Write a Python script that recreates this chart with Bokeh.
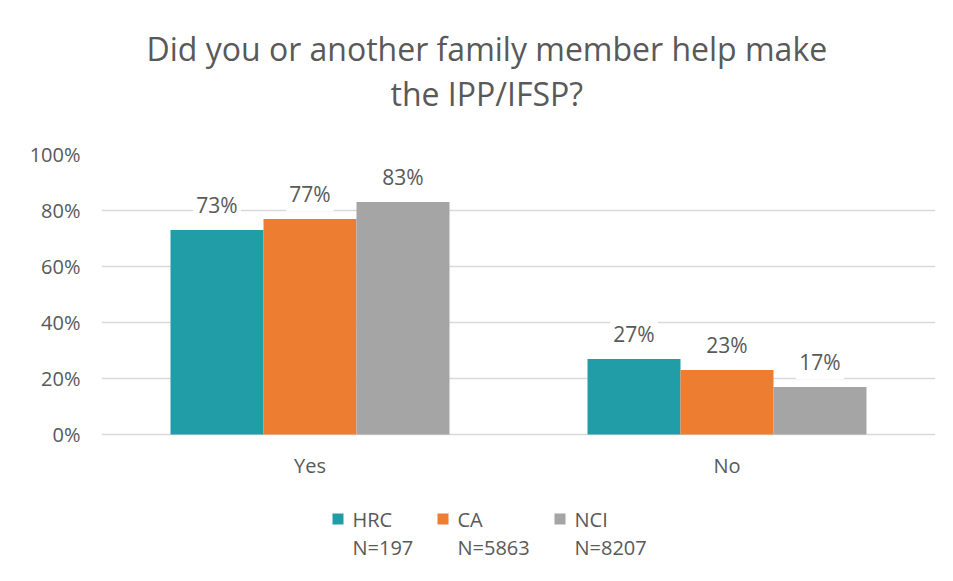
from bokeh.plotting import figure
from bokeh.models import (FactorRange, ColumnDataSource, Title, NumeralTickFormatter, FixedTicker)
from bokeh.transform import dodge
from bokeh.core.properties import value
from bokeh.embed import file_html
from bokeh.resources import INLINE

categories = ["Yes", "No"]
series = ["HRC", "CA", "NCI"]
series_n = ["N=197", "N=5863", "N=8207"]
hrc = [0.73, 0.27]
ca = [0.77, 0.23]
nci = [0.83, 0.17]
colors = ["#219DA7", "#ED7D31", "#A5A5A5"]
title_lines = ["Did you or another family member help make", "the IPP/IFSP?"]
y_ticks = [0, 0.2, 0.4, 0.6, 0.8, 1.0]

FONT = "Open Sans"
TXT = "#595959"

# layout (pixels in the canvas) -> the frame spans the category axis area and reaches
# down to the canvas bottom so that the category labels and legend are drawn in it
FRAME_L, FRAME_R, FRAME_T, ZERO_Y, CANVAS_B = 101, 935, 154, 434, 573
PX_PER_Y = (ZERO_Y - FRAME_T) / 1.0
PX_PER_X = (FRAME_R - FRAME_L) / len(categories)


def ydata(py):
    return (ZERO_Y - py) / PX_PER_Y


def xdata(px):
    return (px - FRAME_L) / PX_PER_X


src = ColumnDataSource(dict(cat=categories, HRC=hrc, CA=ca, NCI=nci,
                            HRC_l=[f"{v:.0%}" for v in hrc],
                            CA_l=[f"{v:.0%}" for v in ca],
                            NCI_l=[f"{v:.0%}" for v in nci]))

p = figure(x_range=FactorRange(*categories, range_padding=0),
           y_range=(ydata(CANVAS_B), 1.0),
           frame_width=FRAME_R - FRAME_L, frame_height=CANVAS_B - FRAME_T,
           min_border_left=FRAME_L, min_border_right=10, min_border_top=FRAME_T,
           min_border_bottom=0,
           output_backend="svg", toolbar_location=None, title=None)

bw = 0.223
offsets = [-bw, 0, bw]
for s, c, off in zip(series, colors, offsets):
    p.vbar(x=dodge("cat", off, range=p.x_range), top=s, width=bw, source=src,
           fill_color=c, line_color=None)
    p.text(x=dodge("cat", off, range=p.x_range), y=s, text=s + "_l", source=src,
           text_align="center", text_baseline="middle", y_offset=-25,
           text_font=value(FONT), text_font_size="21px", text_color=TXT,
           background_fill_color="white", padding=3)

# category labels
p.text(x=categories, y=[ydata(465)] * len(categories), text=categories,
       text_align="center", text_baseline="middle",
       text_font=value(FONT), text_font_size="20px", text_color=TXT)

# legend
sq_px = [337.5, 442.5, 559.5]
for s, n, c, sx in zip(series, series_n, colors, sq_px):
    p.scatter(x=[xdata(sx)], y=[ydata(518.5)], marker="square", size=11,
              fill_color=c, line_color=None)
    p.text(x=[xdata(sx + 14.5)] * 2, y=[ydata(519), ydata(547)], text=[s, n],
           text_align="left", text_baseline="middle",
           text_font=value(FONT), text_font_size="20px", text_color=TXT)

p.outline_line_color = None
p.background_fill_color = "white"
p.border_fill_color = "white"

p.xaxis.visible = False
p.xgrid.grid_line_color = None
p.ygrid.grid_line_color = "#D9D9D9"
p.ygrid.grid_line_width = 1.5
p.yaxis.ticker = FixedTicker(ticks=y_ticks)
p.yaxis.formatter = NumeralTickFormatter(format="0%")
p.yaxis.axis_line_color = None
p.yaxis.major_tick_line_color = None
p.yaxis.minor_tick_line_color = None
p.yaxis.major_label_standoff = 15
p.yaxis.major_label_text_font = FONT
p.yaxis.major_label_text_font_size = "20px"
p.yaxis.major_label_text_color = TXT

# title panels stack outward from the plot: spacer, then line 2, then line 1
p.add_layout(Title(text=" ", text_font_size="1px", standoff=37), "above")
p.add_layout(Title(text=title_lines[1], align="left", offset=289, standoff=0,
                   text_font=FONT, text_font_size="32px", text_font_style="normal",
                   text_color=TXT), "above")
p.add_layout(Title(text=title_lines[0], align="left", offset=45, standoff=0,
                   text_font=FONT, text_font_size="32px", text_font_style="normal",
                   text_color=TXT), "above")

open("out.html", "w").write(file_html(p, INLINE))
